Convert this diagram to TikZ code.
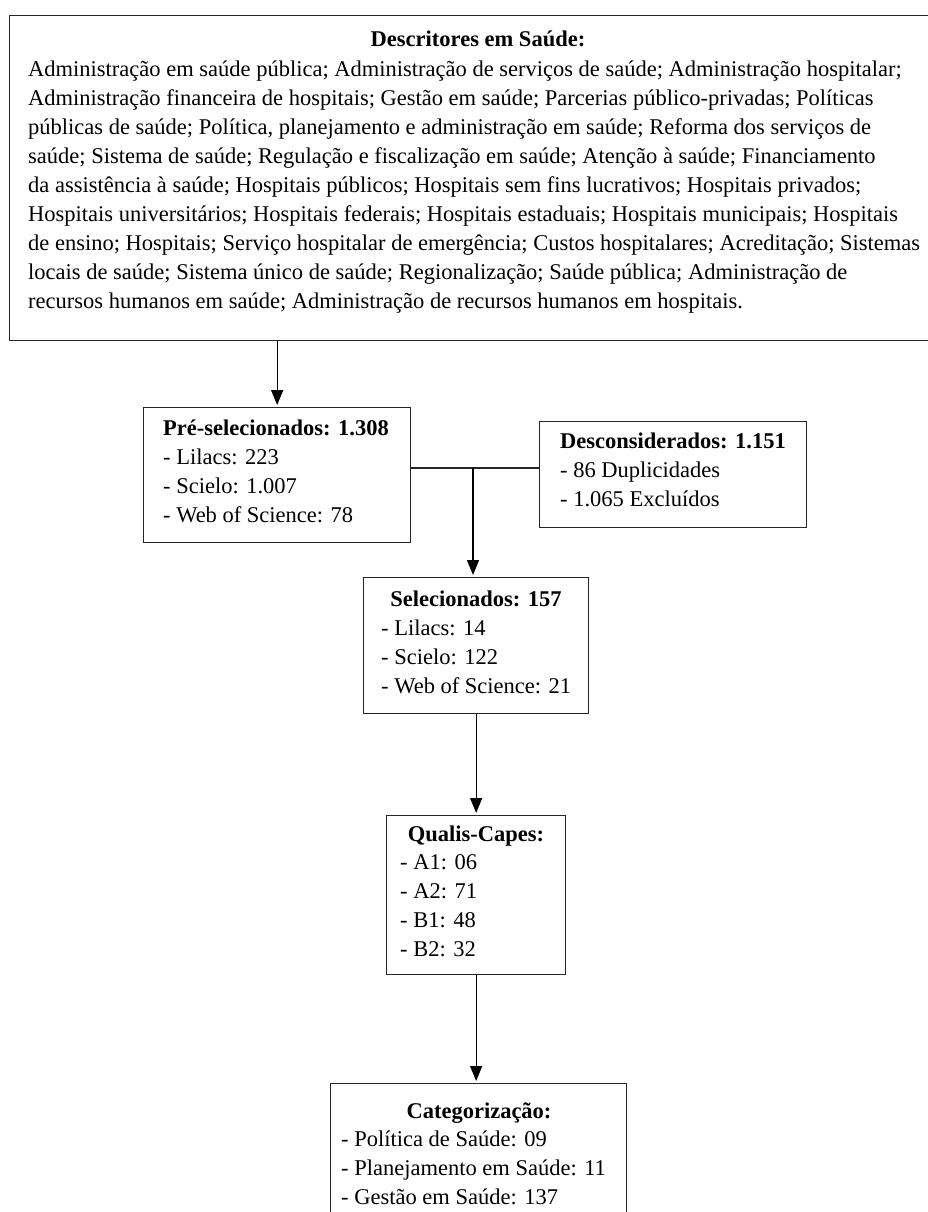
\documentclass[tikz,border=0pt]{standalone}
\usepackage{fontspec}
\setmainfont{Liberation Serif}
\usetikzlibrary{arrows.meta}
\begin{document}
\begin{tikzpicture}[x=1pt,y=-1pt,
  boxline/.style={draw=black!85, line width=1.3pt, inner sep=0pt, anchor=north west},
  txt/.style={inner sep=0pt, anchor=base west, align=left, font=\fontsize{22.5}{29}\selectfont},
  ttl/.style={inner sep=0pt, anchor=base, font=\fontsize{22.5}{29}\selectfont\bfseries},
  arr/.style={draw=black, line width=1.3pt, -{Triangle[width=12pt,length=15pt]}, shorten >=2pt},
  conn/.style={draw=black!85, line width=1.3pt}]
\useasboundingbox (0,0) rectangle (927,1212);

% boxes
\node[boxline, minimum width=931pt, minimum height=325pt] (top) at (9,15) {};
\node[boxline, minimum width=267pt, minimum height=135pt] (pre) at (143,407) {};
\node[boxline, minimum width=267pt, minimum height=106pt] (desc) at (539,421) {};
\node[boxline, minimum width=225pt, minimum height=136pt] (sel) at (363,577) {};
\node[boxline, minimum width=179pt, minimum height=159pt] (qual) at (386,815) {};
\node[boxline, minimum width=296pt, minimum height=145pt] (cat) at (330,1083) {};

% texts (anchored at the baseline of their last line)
\node[ttl] (toptitle) at (478,47) {Descritores em Saúde:};
\node[txt] (topbody) at (28,308) {Administração em saúde pública; Administração de serviços de saúde; Administração hospitalar;\\
Administração financeira de hospitais; Gestão em saúde; Parcerias público-privadas; Políticas\\
públicas de saúde; Política, planejamento e administração em saúde; Reforma dos serviços de\\
saúde; Sistema de saúde; Regulação e fiscalização em saúde; Atenção à saúde; Financiamento\\
da assistência à saúde; Hospitais públicos; Hospitais sem fins lucrativos; Hospitais privados;\\
Hospitais universitários; Hospitais federais; Hospitais estaduais; Hospitais municipais; Hospitais\\
de ensino; Hospitais; Serviço hospitalar de emergência; Custos hospitalares; Acreditação; Sistemas\\
locais de saúde; Sistema único de saúde; Regionalização; Saúde pública; Administração de\\
recursos humanos em saúde; Administração de recursos humanos em hospitais.};

\node[txt] (prebody) at (163,522) {\textbf{Pré-selecionados: 1.308}\\- Lilacs: 223\\- Scielo: 1.007\\- Web of Science: 78};
\node[txt] (descbody) at (560,506) {\textbf{Desconsiderados: 1.151}\\- 86 Duplicidades\\- 1.065 Excluídos};
\node[ttl] (seltitle) at (476,606) {Selecionados: 157};
\node[txt] (selbody) at (381,693) {- Lilacs: 14\\- Scielo: 122\\- Web of Science: 21};
\node[ttl] (qualtitle) at (476,841) {Qualis-Capes:};
\node[txt] (qualbody) at (400,956) {- A1: 06\\- A2: 71\\- B1: 48\\- B2: 32};
\node[ttl] (cattitle) at (479,1118) {Categorização:};
\node[txt] (catbody) at (341,1204) {- Política de Saúde: 09\\- Planejamento em Saúde: 11\\- Gestão em Saúde: 137};

% connectors
\coordinate (j) at (473,468);
\draw[arr] (pre.north |- top.south) -- (pre.north);
\draw[conn] (pre.east |- j) -- (desc.west |- j);
\draw[arr] (j) -- (sel.north -| j);
\draw[arr] (sel.south) -- (qual.north);
\draw[arr] (qual.south) -- (qual.south |- cat.north);
\end{tikzpicture}
\end{document}
